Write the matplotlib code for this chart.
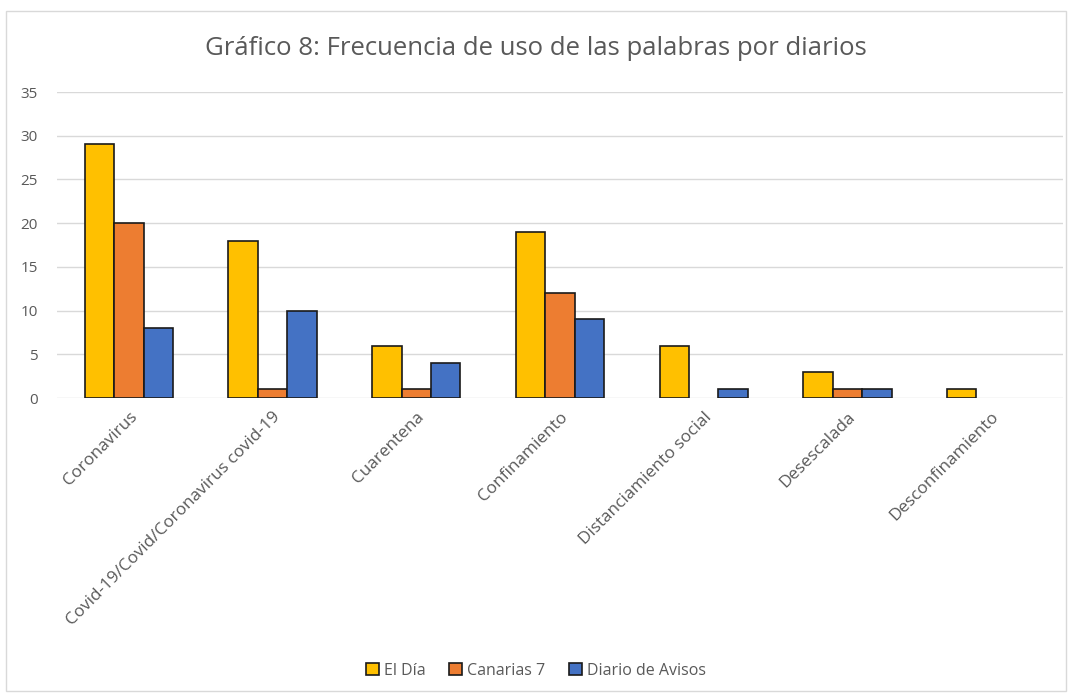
import numpy as np
import matplotlib
matplotlib.use("Agg")
import matplotlib.pyplot as plt
from matplotlib.patches import Rectangle

plt.rcParams.update({
    "font.family": ["Open Sans", "DejaVu Sans"],
    "text.color": "#595959",
})

categories = ["Coronavirus", "Covid-19/Covid/Coronavirus covid-19", "Cuarentena",
              "Confinamiento", "Distanciamiento social", "Desescalada",
              "Desconfinamiento"]
el_dia = [29, 18, 6, 19, 6, 3, 1]
canarias7 = [20, 1, 1, 12, 0, 1, 0]
diario_avisos = [8, 10, 4, 9, 1, 1, 0]
series = [("El Día", el_dia, "#FFC000"),
          ("Canarias 7", canarias7, "#ED7D31"),
          ("Diario de Avisos", diario_avisos, "#4472C4")]

fig = plt.figure(figsize=(10.72, 6.95), dpi=100)
fig.patches.append(Rectangle((0.006, 0.006), 0.988, 0.978, transform=fig.transFigure,
                             fill=False, edgecolor="#d9d9d9", lw=1))
ax = fig.add_axes([0.0532, 0.4273, 0.9384, 0.4403])

x = np.arange(len(categories))
w = 0.205
for i, (name, vals, col) in enumerate(series):
    bars = ax.bar(x + (i - 1) * w, vals, w, color=col, edgecolor="#1a1a1a", lw=1.2,
                  label=name, zorder=3)
    # zero counts leave no visible mark in the original
    for b, v in zip(bars, vals):
        if v == 0:
            b.set_visible(False)

ax.set_xlim(-0.5, len(categories) - 0.5)
ax.set_ylim(0, 35)
ax.set_yticks(range(0, 36, 5))
ax.grid(axis="y", color="#d9d9d9", lw=1, zorder=0)
for s in ax.spines.values():
    s.set_visible(False)
ax.tick_params(length=0, colors="#595959", labelsize=12.3)
ax.tick_params(axis="y", pad=14, labelsize=11)
ax.set_xticks(x)
ax.set_xticklabels(categories, rotation=45, ha="right", rotation_mode="anchor")
ax.tick_params(axis="x", pad=8)

fig.text(0.5, 0.93, "Gráfico 8: Frecuencia de uso de las palabras por diarios",
         ha="center", va="center", fontsize=18.5, color="#595959")

fig.legend(loc="center", bbox_to_anchor=(0.5, 0.035), ncol=3, frameon=False,
           fontsize=11.5, handlelength=0.8, handleheight=0.8, handletextpad=0.3,
           columnspacing=1.5)

fig.savefig("out.png", dpi=100)
